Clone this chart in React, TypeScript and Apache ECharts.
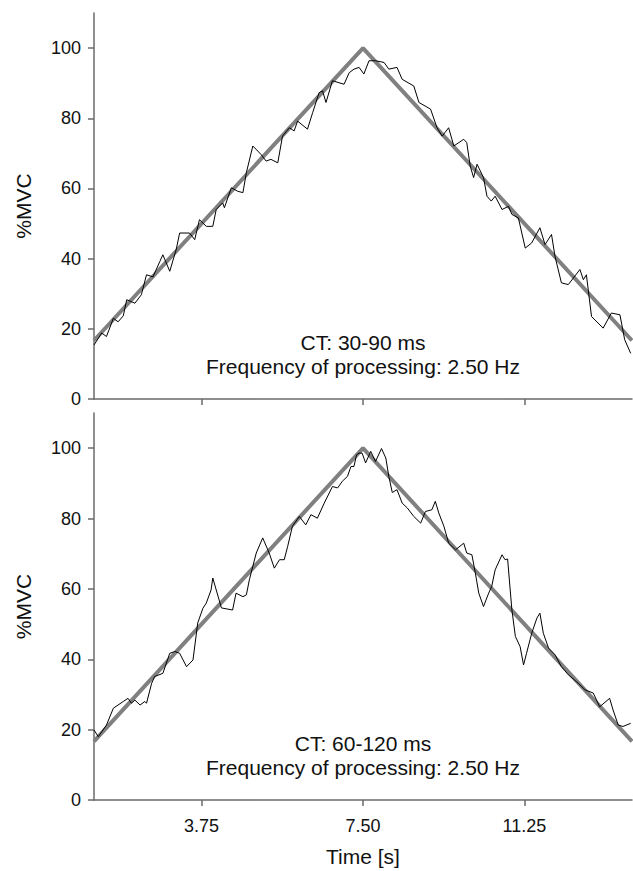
import React, { useEffect, useRef } from "react";
import * as echarts from "echarts";

const FONT = '"Liberation Sans", Arial, Helvetica, sans-serif';

const xTicks = [3.75, 7.5, 11.25];
const yTicks = [0, 20, 40, 60, 80, 100];

const rampTime = [1.25, 7.5, 13.75];
const rampForce = [16.67, 100, 16.67];

const topTime = [
  1.25, 1.43, 1.54, 1.7, 1.81, 1.93, 2.01, 2.2, 2.35, 2.47, 2.62, 2.78, 2.85, 3.01, 3.16, 3.24,
  3.47, 3.59, 3.7, 3.86, 4.01, 4.09, 4.24, 4.28, 4.44, 4.59, 4.71, 4.79, 4.94, 5.13, 5.25, 5.36,
  5.52, 5.63, 5.79, 5.9, 5.98, 6.21, 6.33, 6.48, 6.56, 6.64, 6.79, 7.06, 7.18, 7.29, 7.41, 7.52,
  7.64, 7.79, 7.99, 8.1, 8.29, 8.41, 8.68, 8.8, 9.07, 9.22, 9.34, 9.49, 9.61, 9.84, 9.91, 9.99,
  10.07, 10.15, 10.3, 10.38, 10.48, 10.57, 10.73, 10.88, 10.96, 11.11, 11.27, 11.42, 11.61, 11.73,
  11.88, 11.96, 12.11, 12.27, 12.54, 12.62, 12.69, 12.81, 13.08, 13.27, 13.47, 13.58, 13.72,
];
const topForce = [
  15.4, 18.8, 17.8, 23, 22, 23.7, 28.3, 27.3, 29.7, 35.4, 34.8, 39.2, 41.1, 36.4, 42.6, 47.3,
  47.3, 45.4, 51.1, 49.2, 49.2, 54, 55.9, 54.5, 60.2, 59.2, 58.8, 64.5, 72.1, 69.7, 67.8, 68.3,
  67.3, 74.9, 77.3, 76.4, 79.2, 76.9, 81.6, 87.3, 87.8, 84.5, 90.7, 89.7, 93, 94, 94.5, 92.6,
  96.4, 96.4, 95.9, 94, 94.5, 91.1, 89.2, 84.5, 82.6, 77.3, 74.9, 77.3, 72.1, 74, 73.1, 66.4,
  63.1, 66.9, 63.1, 57.8, 56.4, 57.8, 54, 54.9, 52.6, 51.6, 43, 44.5, 48.8, 44,
  46.9, 40.7, 33.1, 32.6, 36.9, 34, 35.4, 23.5, 20.2, 24.5, 24, 16.9, 13,
];

const botTime = [
  1.25, 1.35, 1.43, 1.54, 1.7, 1.93, 2.04, 2.12, 2.2, 2.32, 2.43, 2.47, 2.59, 2.66, 2.85, 3.01,
  3.13, 3.24, 3.4, 3.55, 3.66, 3.78, 3.86, 3.97, 4.01, 4.21, 4.47, 4.55, 4.71, 4.79, 4.86, 5.02,
  5.17, 5.32, 5.44, 5.56, 5.67, 5.75, 5.86, 6.02, 6.17, 6.29, 6.44, 6.6, 6.79, 6.91, 7.02, 7.14,
  7.22, 7.29, 7.35, 7.41, 7.48, 7.56, 7.68, 7.79, 7.93, 8.03, 8.1, 8.18, 8.29, 8.41, 8.53, 8.68,
  8.84, 8.95, 9.1, 9.18, 9.26, 9.38, 9.49, 9.65, 9.84, 9.91, 10.03, 10.11, 10.19, 10.3, 10.42,
  10.49, 10.57, 10.73, 10.8, 10.86, 10.92, 10.96, 11.04, 11.15, 11.23, 11.3, 11.42, 11.54, 11.61,
  11.69, 11.81, 11.96, 12.11, 12.27, 12.5, 12.66, 12.85, 13.0, 13.23, 13.31, 13.43, 13.54, 13.72,
];
const botForce = [
  19.9, 18, 19.4, 21.3, 26.1, 28, 28.9, 27.5, 28.4, 27, 28, 27.5, 33.2, 35.1, 36, 41.7,
  42.2, 41.7, 37.9, 39.8, 50.3, 54.5, 56, 59.7, 63.1, 54.6, 54, 58.8, 57.8, 58.3, 62.6, 70.2,
  74.5, 70.2, 65.9, 68.3, 68.3, 72.1, 77.8, 80.6, 78.2, 81.1, 80.1, 84.4, 89.1, 88.7, 90.6, 92,
  94.8, 94.8, 98.1, 98.6, 98.6, 95.8, 99.1, 96.2, 99.9, 97.2, 92, 87.4, 88.2, 84.4, 83, 80.6,
  78.7, 82, 82.5, 84.9, 81.6, 77.8, 73, 71.1, 73, 70.2, 69.7, 64.5, 58.8, 55, 58.8,
  60.7, 65.4, 69.7, 68.3, 68.5, 59.7, 54, 46.5, 43.6, 38.4, 41.7, 47.4, 51.7, 53.1,
  47.4, 43.2, 41.3, 37.9, 35.6, 33.2, 31.3, 30.4, 26.5, 28.9, 25.6, 21.3, 20.9, 21.8,
];

const topNote = ["CT: 30-90 ms", "Frequency of processing: 2.50 Hz"];
const botNote = ["CT: 60-120 ms", "Frequency of processing: 2.50 Hz"];

const zip = (a: number[], b: number[]) => a.map((v, i) => [v, b[i]]);

const AXIS_COLOR = "#6a6a6a";

function xAxis(gridIndex: number, withLabels: boolean) {
  return {
    type: "value",
    gridIndex,
    min: 1.25,
    max: 13.75,
    axisLine: { show: true, onZero: false, lineStyle: { color: AXIS_COLOR, width: 1.5 } },
    axisTick: { show: true, inside: false, length: 6, customValues: xTicks, lineStyle: { color: AXIS_COLOR, width: 1.5 } },
    axisLabel: {
      show: withLabels,
      customValues: xTicks,
      formatter: (v: number) => v.toFixed(2),
      color: "#111",
      fontSize: 18,
      fontFamily: FONT,
      margin: 17,
    },
    splitLine: { show: false },
    name: withLabels ? "Time [s]" : "",
    nameLocation: "middle",
    nameGap: 46,
    nameTextStyle: { color: "#111", fontSize: 21, fontFamily: FONT },
  };
}

function yAxis(gridIndex: number) {
  return {
    type: "value",
    gridIndex,
    min: 0,
    max: 110,
    axisLine: { show: true, onZero: false, lineStyle: { color: AXIS_COLOR, width: 1.5 } },
    axisTick: { show: true, inside: false, length: 6, customValues: yTicks, lineStyle: { color: AXIS_COLOR, width: 1.5 } },
    axisLabel: {
      customValues: yTicks,
      color: "#111",
      fontSize: 18,
      fontFamily: FONT,
      margin: 13,
    },
    splitLine: { show: false },
    name: "%MVC",
    nameLocation: "middle",
    nameRotate: 90,
    nameGap: 60,
    nameTextStyle: { color: "#111", fontSize: 21, fontFamily: FONT },
  };
}

function note(lines: string[], y: number) {
  return lines.map((t, i) => ({
    type: "text",
    x: 363,
    y: y + i * 24,
    style: {
      text: t,
      fill: "#111",
      font: `21px ${FONT}`,
      align: "center",
      verticalAlign: "middle",
    },
  }));
}

export default function App() {
  const ref = useRef<HTMLDivElement>(null);
  useEffect(() => {
    if (!ref.current) return;
    const chart = echarts.init(ref.current, undefined, { renderer: "svg" });
    chart.setOption({
      animation: false,
      backgroundColor: "#fff",
      grid: [
        { left: 94, right: 1, top: 13, height: 386 },
        { left: 94, right: 1, top: 413, height: 387 },
      ],
      xAxis: [xAxis(0, false), xAxis(1, true)],
      yAxis: [yAxis(0), yAxis(1)],
      series: [
        {
          type: "line", xAxisIndex: 0, yAxisIndex: 0, data: zip(rampTime, rampForce),
          showSymbol: false, lineStyle: { color: "#808080", width: 4 }, z: 2,
        },
        {
          type: "line", xAxisIndex: 0, yAxisIndex: 0, data: zip(topTime, topForce),
          showSymbol: false, lineStyle: { color: "#000", width: 1 }, z: 3,
        },
        {
          type: "line", xAxisIndex: 1, yAxisIndex: 1, data: zip(rampTime, rampForce),
          showSymbol: false, lineStyle: { color: "#808080", width: 4 }, z: 2,
        },
        {
          type: "line", xAxisIndex: 1, yAxisIndex: 1, data: zip(botTime, botForce),
          showSymbol: false, lineStyle: { color: "#000", width: 1 }, z: 3,
        },
      ],
      graphic: [...note(topNote, 342), ...note(botNote, 743)],
    });
    return () => chart.dispose();
  }, []);
  return (
    <div
      ref={ref}
      style={{ position: "fixed", left: 0, top: 0, width: 633, height: 871, background: "#fff" }}
    />
  );
}
